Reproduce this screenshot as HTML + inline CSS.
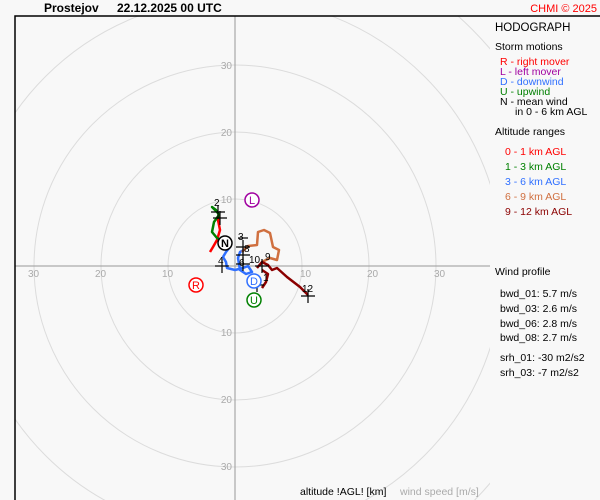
<!DOCTYPE html>
<html><head><style>
html,body{margin:0;padding:0;background:#f8f8f8;overflow:hidden;width:600px;height:500px;}
svg{display:block;font-family:"Liberation Sans",sans-serif;}
</style></head><body>
<svg width="600" height="500" viewBox="0 0 600 500">
<defs><clipPath id="c"><rect x="15" y="16" width="475" height="484"/></clipPath></defs>
<rect x="0" y="0" width="600" height="500" fill="#f8f8f8"/>
<g clip-path="url(#c)" fill="none" stroke="#dcdcdc" stroke-width="1">
<circle cx="235" cy="266" r="67"/><circle cx="235" cy="266" r="134"/><circle cx="235" cy="266" r="201"/><circle cx="235" cy="266" r="268"/><circle cx="235" cy="266" r="335"/><circle cx="235" cy="266" r="402"/>
</g>
<line x1="235" y1="16" x2="235" y2="500" stroke="#999"/>
<line x1="15" y1="266" x2="490" y2="266" stroke="#999"/>
<polyline points="15,500 15,16 600,16" fill="none" stroke="#000" stroke-width="1.5"/>
<g fill="#aaa" font-size="10">
<text x="28" y="277">30</text><text x="95" y="277">20</text><text x="162" y="277">10</text>
<text x="300" y="277">10</text><text x="367" y="277">20</text><text x="434" y="277">30</text>
<text x="232" y="69" text-anchor="end">30</text><text x="232" y="136" text-anchor="end">20</text><text x="232" y="203" text-anchor="end">10</text>
<text x="232" y="336" text-anchor="end">10</text><text x="232" y="403" text-anchor="end">20</text><text x="232" y="470" text-anchor="end">30</text>
</g>
<g fill="none" stroke-width="2.5" stroke-linejoin="round">
<polyline stroke="#ff0000" points="210,252 213,247 217,240 220,230 218,220 220,217"/>
<polyline stroke="#008000" points="218,213 212,207 216,210 219,215 214,222 212,232 217,238 220,240"/>
<polyline stroke="#3070ff" points="222,245 230,247 226,252 223,257 226,262 227,268 235,270 243,268 248,266 252,272 246,274 240,270 238,258 240,252 244,250"/>
<polyline stroke="#d07040" points="242,252 248,246 257,245 258,232 264,230 270,233 273,247 279,250 277,260 270,258 262,262"/>
<polyline stroke="#8b0000" points="257,268 262,262 268,265 272,270 277,268 287,277 300,287 308,295"/>
<polyline stroke="#8b0000" points="262,270 268,274 266,282 262,288"/>
</g>
<g stroke="#000" stroke-width="1.2">
<path d="M211,212h14M218,205v14"/><path d="M213,218h14M220,211v14"/>
<path d="M215,266h14M222,259v14"/><path d="M236,264h14M243,257v14"/>
<path d="M236,247h14M243,240v14"/><path d="M236,255h14M243,248v14"/>
<path d="M255,266h14M262,259v14"/><path d="M250,285h14M257,278v14"/>
<path d="M301,296h14M308,289v14"/><path d="M238,238h10"/>
</g>
<g font-size="10" fill="#000">
<text x="214" y="206">2</text><text x="238" y="240">3</text><text x="244" y="252">8</text>
<text x="218" y="264">4</text><text x="239" y="266">6</text><text x="249" y="263">10</text>
<text x="265" y="260">9</text><text x="263" y="281">1</text><text x="302" y="292">12</text>
</g>
<g font-size="11" text-anchor="middle" stroke-width="1.5" fill="#fff">
<circle cx="225" cy="243" r="7" stroke="#000"/><text x="225" y="247" fill="#000" stroke="none" font-weight="bold">N</text>
<circle cx="252" cy="200" r="7" stroke="#a000a0"/><text x="252" y="204" fill="#a000a0" stroke="none">L</text>
<circle cx="196" cy="285" r="7" stroke="#ff0000"/><text x="196" y="289" fill="#ff0000" stroke="none">R</text>
<circle cx="254" cy="281" r="7" stroke="#3070ff"/><text x="254" y="285" fill="#3070ff" stroke="none">D</text>
<circle cx="254" cy="300" r="7" stroke="#008000"/><text x="254" y="304" fill="#008000" stroke="none">U</text>
</g>
<text x="44" y="12" font-size="12" font-weight="bold">Prostejov</text>
<text x="117" y="12" font-size="12" font-weight="bold">22.12.2025 00 UTC</text>
<text x="597" y="12" font-size="11" fill="#ff0000" text-anchor="end">CHMI © 2025</text>
<g font-size="10.5">
<text x="495" y="31" font-size="11.5">HODOGRAPH</text>
<text x="495" y="50">Storm motions</text>
<text x="500" y="65" fill="#ff0000">R - right mover</text>
<text x="500" y="75" fill="#a000a0">L - left mover</text>
<text x="500" y="85" fill="#3070ff">D - downwind</text>
<text x="500" y="95" fill="#008000">U - upwind</text>
<text x="500" y="105">N - mean wind</text>
<text x="515" y="115">in 0 - 6 km AGL</text>
<text x="495" y="135">Altitude ranges</text>
<text x="505" y="155" fill="#ff0000">0 - 1 km AGL</text>
<text x="505" y="170" fill="#008000">1 - 3 km AGL</text>
<text x="505" y="185" fill="#3070ff">3 - 6 km AGL</text>
<text x="505" y="200" fill="#d07040">6 - 9 km AGL</text>
<text x="505" y="215" fill="#8b0000">9 - 12 km AGL</text>
<text x="495" y="275">Wind profile</text>
<text x="500" y="297">bwd_01: 5.7 m/s</text>
<text x="500" y="312">bwd_03: 2.6 m/s</text>
<text x="500" y="327">bwd_06: 2.8 m/s</text>
<text x="500" y="341">bwd_08: 2.7 m/s</text>
<text x="500" y="361">srh_01: -30 m2/s2</text>
<text x="500" y="376">srh_03: -7 m2/s2</text>
<text x="300" y="495">altitude !AGL! [km]</text>
<text x="400" y="495" fill="#aaa">wind speed [m/s]</text>
</g>
</svg>
</body></html>
